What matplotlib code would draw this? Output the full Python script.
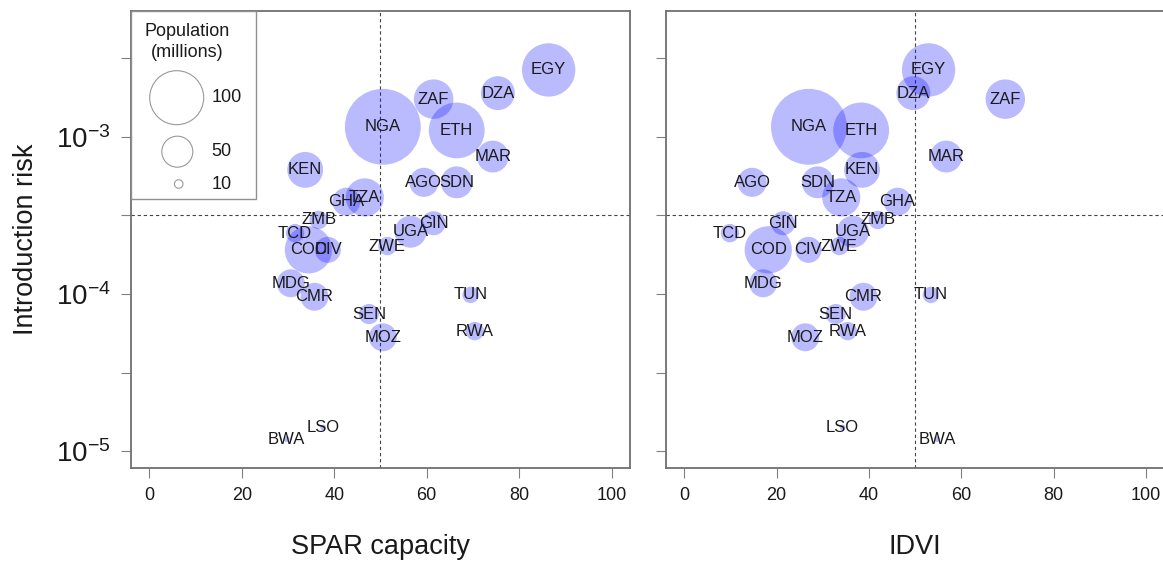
import numpy as np
import matplotlib
matplotlib.use("Agg")
import matplotlib.pyplot as plt
from matplotlib.patches import Rectangle

plt.rcParams['font.family'] = ['Liberation Sans', 'DejaVu Sans']
plt.rcParams['mathtext.default'] = 'regular'

# ---- data ----
countries = ["EGY", "DZA", "ZAF", "NGA", "ETH", "MAR", "KEN", "AGO", "SDN", "TZA",
             "GHA", "ZMB", "TCD", "COD", "CIV", "ZWE", "UGA", "GIN", "MDG", "CMR",
             "TUN", "SEN", "MOZ", "RWA", "LSO", "BWA"]
spar = [86.4, 75.4, 61.5, 50.5, 66.5, 74.3, 33.7, 59.4, 66.5, 46.6,
        42.6, 36.6, 31.5, 34.4, 38.6, 51.5, 56.5, 61.5, 30.6, 35.7,
        69.5, 47.5, 50.5, 70.4, 37.6, 29.7]
idvi = [52.9, 49.6, 69.5, 27.0, 38.3, 56.7, 38.5, 14.7, 28.9, 34.0,
        46.2, 41.9, 9.9, 18.2, 26.9, 33.6, 36.5, 21.4, 17.1, 38.8,
        53.4, 32.8, 26.2, 35.4, 34.3, 54.7]
risk = [2.67e-3, 1.90e-3, 1.74e-3, 1.16e-3, 1.10e-3, 7.5e-4, 6.17e-4, 5.14e-4, 5.14e-4, 4.12e-4,
        3.87e-4, 2.96e-4, 2.44e-4, 1.91e-4, 1.91e-4, 2.02e-4, 2.49e-4, 2.82e-4, 1.17e-4, 9.6e-5,
        9.87e-5, 7.45e-5, 5.3e-5, 5.8e-5, 1.41e-5, 1.19e-5]
population = [84, 34, 46, 170, 92, 30, 38, 25, 30, 43,
              23, 10, 10, 66, 20, 10, 30, 17, 23, 23,
              8, 12, 23, 10, 1, 1]
legend_values = [100, 50, 10]
spar_threshold = 50
idvi_threshold = 50
risk_threshold = 10 ** -3.5

# ---- style ----
DPI = 100
PX = 72.0 / DPI
K = 2.91  # px radius per sqrt(million)

def size_pts(p):
    r = K * np.sqrt(np.asarray(p, dtype=float))
    return (2 * r * PX) ** 2

fig = plt.figure(figsize=(11.63, 5.62), dpi=DPI)
W, H = 1163.0, 562.0
ax_w = (630 - 131) / W
ax_b = 1 - 468 / H
ax_h = (468 - 10.8) / H
ax1 = fig.add_axes([131 / W, ax_b, ax_w, ax_h])
ax2 = fig.add_axes([665.7 / W, ax_b, ax_w, ax_h])

fill = (0.0, 0.0, 1.0)
spine_col = '#707070'
txt_col = '#1a1a1a'

for ax, xs, thr, xlabel in [(ax1, spar, spar_threshold, 'SPAR capacity'),
                            (ax2, idvi, idvi_threshold, 'IDVI')]:
    ax.set_yscale('log')
    ax.set_xlim(-4, 104)
    ax.set_ylim(10 ** -5.108, 10 ** -2.197)
    ax.scatter(xs, risk, s=size_pts(population), color=fill, alpha=0.27,
               linewidths=0, zorder=2)
    for c, x, y in zip(countries, xs, risk):
        ax.text(x, y, c, ha='center', va='center', fontsize=12, color=txt_col, zorder=3)
    ax.axvline(thr, color='#444444', lw=0.8, ls=(0, (3, 2.5)), zorder=1)
    ax.axhline(risk_threshold, color='#444444', lw=0.8, ls=(0, (3, 2.5)), zorder=1)
    ax.set_xticks([0, 20, 40, 60, 80, 100])
    ax.set_yticks([10 ** e for e in [-5, -4.5, -4, -3.5, -3, -2.5]])
    ax.yaxis.set_minor_locator(matplotlib.ticker.NullLocator())
    ax.tick_params(axis='both', length=7.5, width=0.8, color='#808080')
    ax.tick_params(axis='x', labelsize=13, pad=6, labelcolor=txt_col)
    ax.tick_params(axis='y', labelsize=20, pad=7, labelcolor=txt_col)
    for s in ax.spines.values():
        s.set_color(spine_col)
        s.set_linewidth(1.3)
    ax.set_xlabel(xlabel, fontsize=19.5, labelpad=22, color=txt_col)

ylabels = {-5: '$10^{-5}$', -4: '$10^{-4}$', -3: '$10^{-3}$'}
ax1.set_yticklabels([ylabels.get(e, '') for e in [-5, -4.5, -4, -3.5, -3, -2.5]])
ax2.set_yticklabels([])
ax1.set_ylabel('Introduction risk', fontsize=19.5, labelpad=12, color=txt_col)

# ---- legend ----
t = ax1.transAxes
def ax_frac(px, py):
    return ((px - 131) / 499.0, (468 - py) / (468 - 10.8))

x0, y0 = ax_frac(131, 199)
x1, y1 = ax_frac(256, 10.8)
ax1.add_patch(Rectangle((x0, y0), x1 - x0, y1 - y0, transform=t, fill=False,
                        edgecolor='#909090', lw=1.0, zorder=4))
tx, ty = ax_frac(187, 32)
ax1.text(tx, ty, 'Population', transform=t, ha='center', va='center', fontsize=13, color=txt_col)
tx, ty = ax_frac(187, 52)
ax1.text(tx, ty, '(millions)', transform=t, ha='center', va='center', fontsize=13, color=txt_col)
leg_y = [97.7, 151.7, 184]
leg_cx = [176.7, 177.3, 178.7]
r100 = 27.0
for v, cy, cx in zip(legend_values, leg_y, leg_cx):
    r = r100 * (v / 100.0) ** 0.8
    px, py = ax_frac(cx, cy)
    ax1.scatter([px], [py], s=[(2 * r * PX) ** 2], transform=t, facecolors='none',
                edgecolors='#999999', linewidths=0.8, zorder=5, clip_on=False)
    lx, ly = ax_frac(211.5, cy)
    ax1.text(lx, ly, str(v), transform=t, ha='left', va='center', fontsize=13, color=txt_col)

fig.savefig('out.png', dpi=DPI)
